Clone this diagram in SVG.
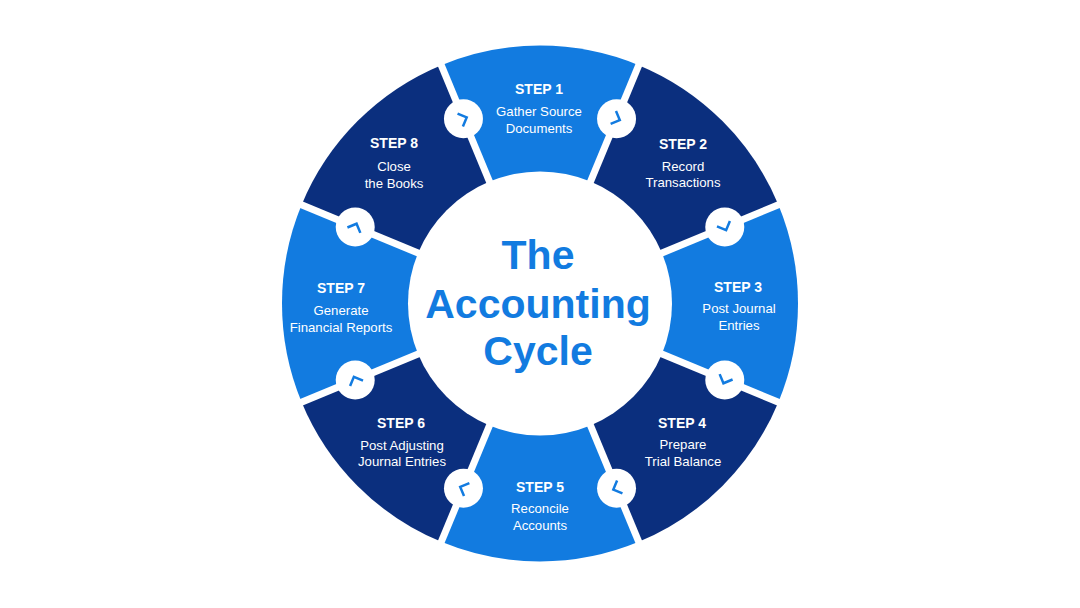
<svg xmlns="http://www.w3.org/2000/svg" width="1080" height="608" viewBox="0 0 1080 608">
<defs>
<style>
.light{fill:#127be0}
.dark{fill:#0b2f7e}
.step{font-family:"Liberation Sans",Arial,sans-serif;font-weight:bold;font-size:14px;fill:#ffffff;text-anchor:middle}
.desc{font-family:"Liberation Sans",Arial,sans-serif;font-size:13.2px;fill:#ffffff;text-anchor:middle}
.title{font-family:"Liberation Sans",Arial,sans-serif;font-weight:bold;font-size:41px;fill:#127be0;text-anchor:middle}
.gap{stroke:#ffffff;stroke-width:7;fill:none}
.knob{fill:#ffffff}
.chev{fill:none;stroke:#127be0;stroke-width:2.5;stroke-linecap:butt;stroke-linejoin:miter}
</style>
<path id="chevron" d="M-3.5,-7 L3.5,0 L-3.5,7"/>
</defs>
<rect width="1080" height="608" fill="#ffffff"/>

<g id="step1"><path class="light" d="M540 303.5 L441.27 65.14 A258 258 0 0 1 638.73 65.14 Z"/></g>
<g id="step2"><path class="dark" d="M540 303.5 L638.73 65.14 A258 258 0 0 1 778.36 204.77 Z"/></g>
<g id="step3"><path class="light" d="M540 303.5 L778.36 204.77 A258 258 0 0 1 778.36 402.23 Z"/></g>
<g id="step4"><path class="dark" d="M540 303.5 L778.36 402.23 A258 258 0 0 1 638.73 541.86 Z"/></g>
<g id="step5"><path class="light" d="M540 303.5 L638.73 541.86 A258 258 0 0 1 441.27 541.86 Z"/></g>
<g id="step6"><path class="dark" d="M540 303.5 L441.27 541.86 A258 258 0 0 1 301.64 402.23 Z"/></g>
<g id="step7"><path class="light" d="M540 303.5 L301.64 402.23 A258 258 0 0 1 301.64 204.77 Z"/></g>
<g id="step8"><path class="dark" d="M540 303.5 L301.64 204.77 A258 258 0 0 1 441.27 65.14 Z"/></g>

<g id="connectors">
<line class="gap" x1="436.68" y1="54.05" x2="643.32" y2="552.95"/>
<line class="gap" x1="643.32" y1="54.05" x2="436.68" y2="552.95"/>
<line class="gap" x1="789.45" y1="200.18" x2="290.55" y2="406.82"/>
<line class="gap" x1="789.45" y1="406.82" x2="290.55" y2="200.18"/>
<g transform="translate(463.46,118.72)"><circle class="knob" r="19.5"/><use href="#chevron" class="chev" transform="rotate(-22.5)"/></g>
<g transform="translate(616.54,118.72)"><circle class="knob" r="19.5"/><use href="#chevron" class="chev" transform="rotate(22.5)"/></g>
<g transform="translate(724.78,226.96)"><circle class="knob" r="19.5"/><use href="#chevron" class="chev" transform="rotate(67.5)"/></g>
<g transform="translate(724.78,380.04)"><circle class="knob" r="19.5"/><use href="#chevron" class="chev" transform="rotate(112.5)"/></g>
<g transform="translate(616.54,488.28)"><circle class="knob" r="19.5"/><use href="#chevron" class="chev" transform="rotate(157.5)"/></g>
<g transform="translate(463.46,488.28)"><circle class="knob" r="19.5"/><use href="#chevron" class="chev" transform="rotate(202.5)"/></g>
<g transform="translate(355.22,380.04)"><circle class="knob" r="19.5"/><use href="#chevron" class="chev" transform="rotate(247.5)"/></g>
<g transform="translate(355.22,226.96)"><circle class="knob" r="19.5"/><use href="#chevron" class="chev" transform="rotate(-67.5)"/></g>
</g>

<g id="center">
<circle cx="540" cy="303.5" r="132" fill="#ffffff"/>
<text class="title" x="538" y="269">The</text>
<text class="title" x="538" y="318">Accounting</text>
<text class="title" x="538" y="365">Cycle</text>
</g>

<g id="labels">
<g id="label1"><text class="step" x="539" y="94">STEP 1</text><text class="desc" x="539" y="116">Gather Source</text><text class="desc" x="539" y="133">Documents</text></g>
<g id="label2"><text class="step" x="683" y="149">STEP 2</text><text class="desc" x="683" y="171">Record</text><text class="desc" x="683" y="187">Transactions</text></g>
<g id="label3"><text class="step" x="738" y="292">STEP 3</text><text class="desc" x="739" y="313">Post Journal</text><text class="desc" x="739" y="330">Entries</text></g>
<g id="label4"><text class="step" x="682" y="428">STEP 4</text><text class="desc" x="683" y="449">Prepare</text><text class="desc" x="683" y="466">Trial Balance</text></g>
<g id="label5"><text class="step" x="540" y="492">STEP 5</text><text class="desc" x="540" y="513">Reconcile</text><text class="desc" x="540" y="530">Accounts</text></g>
<g id="label6"><text class="step" x="401" y="428">STEP 6</text><text class="desc" x="402" y="450">Post Adjusting</text><text class="desc" x="402" y="466">Journal Entries</text></g>
<g id="label7"><text class="step" x="341" y="293">STEP 7</text><text class="desc" x="341" y="315">Generate</text><text class="desc" x="341" y="332">Financial Reports</text></g>
<g id="label8"><text class="step" x="394" y="148">STEP 8</text><text class="desc" x="394" y="171">Close</text><text class="desc" x="394" y="188">the Books</text></g>
</g>
</svg>
